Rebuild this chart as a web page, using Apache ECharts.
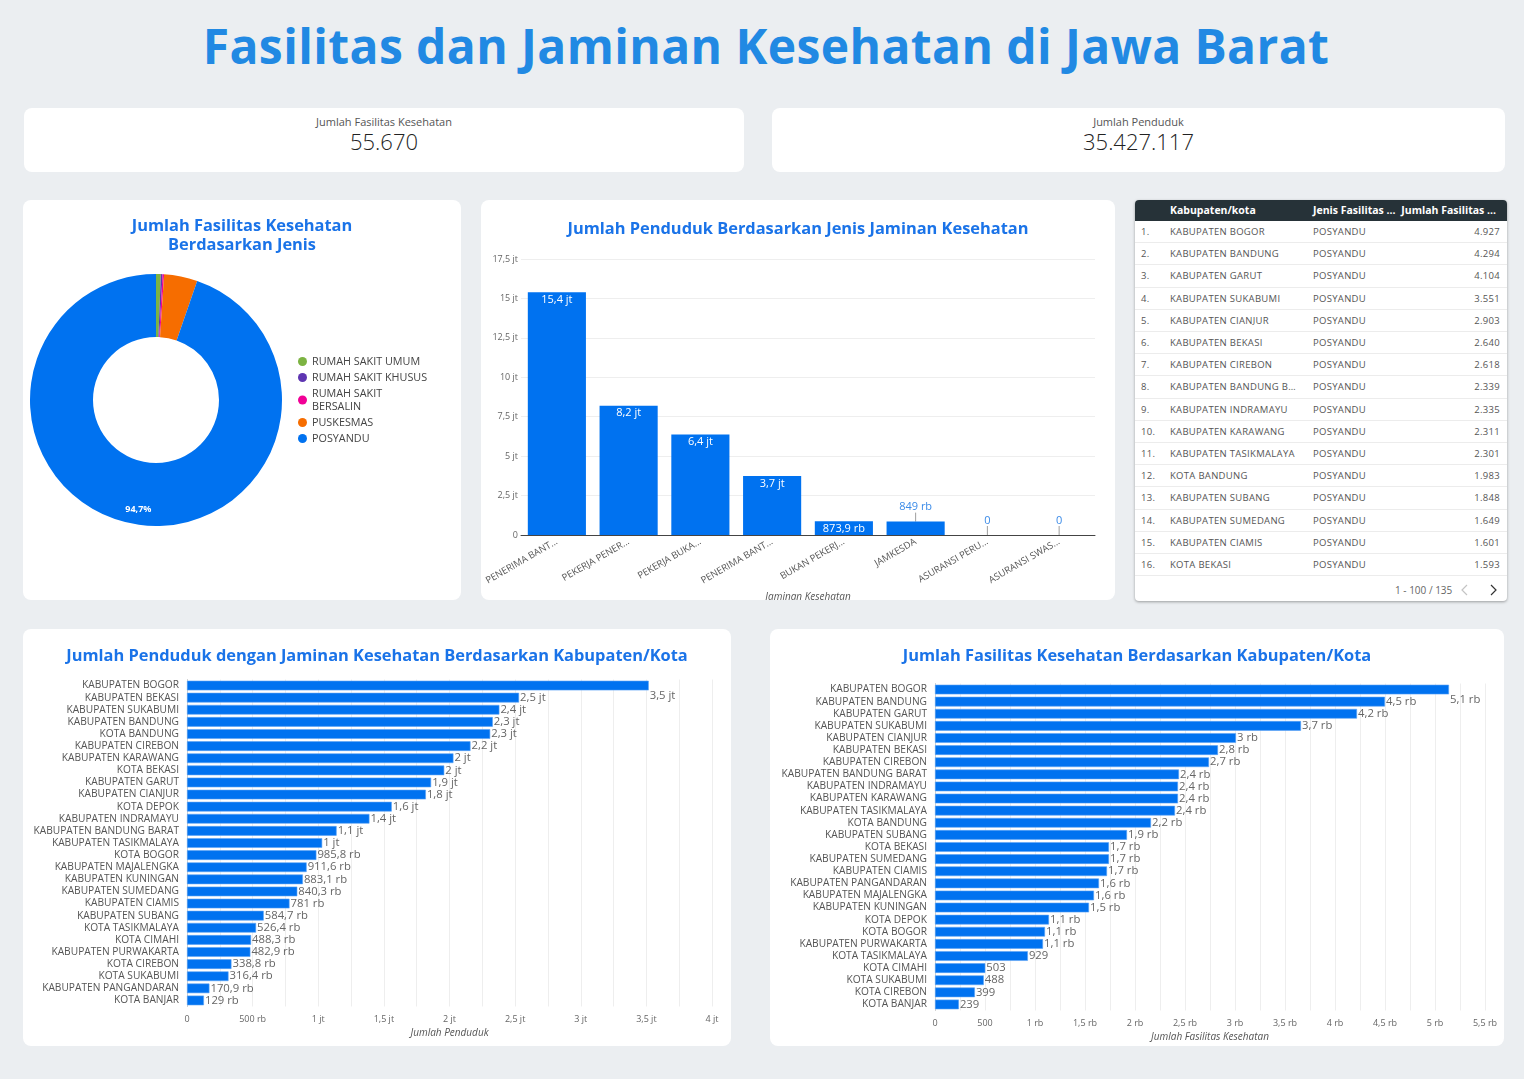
<!DOCTYPE html>
<html><head><meta charset="utf-8">
<script src="https://cdn.jsdelivr.net/npm/echarts@6/dist/echarts.min.js"></script>
<style>
html,body{margin:0;padding:0}
body{background:#ebeef1;width:1524px;height:1079px;overflow:hidden;font-family:'Open Sans',sans-serif;position:relative}
.card{position:absolute;background:#fff;border-radius:8px;overflow:hidden}
#title{position:absolute;left:0;width:1532px;top:16px;text-align:center;font-size:48px;font-weight:700;color:#2189e3;line-height:60px;letter-spacing:0.4px}
.kpi-label{position:absolute;left:0;right:0;top:6px;text-align:center;font-size:11px;color:#555}
.kpi-value{position:absolute;left:0;right:0;top:18px;text-align:center;font-size:22px;font-weight:300;color:#222}
#tbl{border-radius:4px;box-shadow:0 1px 3px rgba(0,0,0,0.35)}
#tbl .hdr{position:absolute;left:0;top:0;width:100%;height:21px;background:#263238;color:#fff;font-size:10.5px;font-weight:700}
#tbl .hdr span,#tbl .row span{position:absolute;top:0;white-space:nowrap}
#tbl .row{position:absolute;left:0;width:100%;height:22.2px;border-bottom:1px solid #ececec;font-size:9.5px;color:#555;letter-spacing:0.3px;box-sizing:border-box}
#tbl .row span{color:#555}
.ell{overflow:hidden;text-overflow:ellipsis;width:128px}
#foot{position:absolute;top:383px;left:0;width:100%;font-size:10px;color:#666}
.chart{position:absolute;left:0;top:0;width:100%;height:100%}
</style></head>
<body>
<div id="title">Fasilitas dan Jaminan Kesehatan di Jawa Barat</div>
<div class="card" style="left:24px;top:108px;width:720px;height:64px">
  <div class="kpi-label" id="kpi1l"></div><div class="kpi-value" id="kpi1v"></div>
</div>
<div class="card" style="left:772px;top:108px;width:733px;height:64px">
  <div class="kpi-label" id="kpi2l"></div><div class="kpi-value" id="kpi2v"></div>
</div>
<div class="card" style="left:23px;top:200px;width:438px;height:400px"><div class="chart" id="donut"></div></div>
<div class="card" style="left:481px;top:200px;width:634px;height:400px"><div class="chart" id="jaminan"></div></div>
<div class="card" id="tbl" style="left:1135px;top:200px;width:372px;height:401px"></div>
<div class="card" style="left:23px;top:629px;width:708px;height:417px"><div class="chart" id="pop"></div></div>
<div class="card" style="left:770px;top:629px;width:734px;height:417px"><div class="chart" id="fac"></div></div>
<script>
// ---------- DATA ----------
const kpiLabels = ['Jumlah Fasilitas Kesehatan', 'Jumlah Penduduk'];
const kpiValues = [55670, 35427117];

const donutNames = ['RUMAH SAKIT UMUM', 'RUMAH SAKIT KHUSUS', 'RUMAH SAKIT BERSALIN', 'PUSKESMAS', 'POSYANDU'];
const donutValues = [340, 120, 110, 2380, 52720];

const jaminanLabels = ['PENERIMA BANT...', 'PEKERJA PENER...', 'PEKERJA BUKA...', 'PENERIMA BANT...', 'BUKAN PEKERJ...', 'JAMKESDA', 'ASURANSI PERU...', 'ASURANSI SWAS...'];
const jaminanValues = [15390000, 8190000, 6380000, 3740000, 873900, 849000, 0, 0];

const tableNames = ['KABUPATEN BOGOR', 'KABUPATEN BANDUNG', 'KABUPATEN GARUT', 'KABUPATEN SUKABUMI', 'KABUPATEN CIANJUR', 'KABUPATEN BEKASI', 'KABUPATEN CIREBON', 'KABUPATEN BANDUNG BARAT', 'KABUPATEN INDRAMAYU', 'KABUPATEN KARAWANG', 'KABUPATEN TASIKMALAYA', 'KOTA BANDUNG', 'KABUPATEN SUBANG', 'KABUPATEN SUMEDANG', 'KABUPATEN CIAMIS', 'KOTA BEKASI'];
const tableJenis = ['POSYANDU', 'POSYANDU', 'POSYANDU', 'POSYANDU', 'POSYANDU', 'POSYANDU', 'POSYANDU', 'POSYANDU', 'POSYANDU', 'POSYANDU', 'POSYANDU', 'POSYANDU', 'POSYANDU', 'POSYANDU', 'POSYANDU', 'POSYANDU'];
const tableValues = [4927, 4294, 4104, 3551, 2903, 2640, 2618, 2339, 2335, 2311, 2301, 1983, 1848, 1649, 1601, 1593];

const popCats = ['KABUPATEN BOGOR', 'KABUPATEN BEKASI', 'KABUPATEN SUKABUMI', 'KABUPATEN BANDUNG', 'KOTA BANDUNG', 'KABUPATEN CIREBON', 'KABUPATEN KARAWANG', 'KOTA BEKASI', 'KABUPATEN GARUT', 'KABUPATEN CIANJUR', 'KOTA DEPOK', 'KABUPATEN INDRAMAYU', 'KABUPATEN BANDUNG BARAT', 'KABUPATEN TASIKMALAYA', 'KOTA BOGOR', 'KABUPATEN MAJALENGKA', 'KABUPATEN KUNINGAN', 'KABUPATEN SUMEDANG', 'KABUPATEN CIAMIS', 'KABUPATEN SUBANG', 'KOTA TASIKMALAYA', 'KOTA CIMAHI', 'KABUPATEN PURWAKARTA', 'KOTA CIREBON', 'KOTA SUKABUMI', 'KABUPATEN PANGANDARAN', 'KOTA BANJAR'];
const popValues = [3518000, 2530000, 2380000, 2330000, 2310000, 2160000, 2030000, 1960000, 1860000, 1820000, 1560000, 1390000, 1140000, 1030000, 985800, 911600, 883100, 840300, 781000, 584700, 526400, 488300, 482900, 338800, 316400, 170900, 129000];

const facCats = ['KABUPATEN BOGOR', 'KABUPATEN BANDUNG', 'KABUPATEN GARUT', 'KABUPATEN SUKABUMI', 'KABUPATEN CIANJUR', 'KABUPATEN BEKASI', 'KABUPATEN CIREBON', 'KABUPATEN BANDUNG BARAT', 'KABUPATEN INDRAMAYU', 'KABUPATEN KARAWANG', 'KABUPATEN TASIKMALAYA', 'KOTA BANDUNG', 'KABUPATEN SUBANG', 'KOTA BEKASI', 'KABUPATEN SUMEDANG', 'KABUPATEN CIAMIS', 'KABUPATEN PANGANDARAN', 'KABUPATEN MAJALENGKA', 'KABUPATEN KUNINGAN', 'KOTA DEPOK', 'KOTA BOGOR', 'KABUPATEN PURWAKARTA', 'KOTA TASIKMALAYA', 'KOTA CIMAHI', 'KOTA SUKABUMI', 'KOTA CIREBON', 'KOTA BANJAR'];
const facValues = [5140, 4500, 4220, 3660, 3010, 2830, 2740, 2440, 2430, 2430, 2400, 2160, 1920, 1740, 1740, 1720, 1640, 1590, 1540, 1140, 1100, 1080, 929, 503, 488, 399, 239];

// ---------- STYLE ----------
const FONT = "'Open Sans', sans-serif";
const BLUE = '#0072f0';
const TITLE_BLUE = '#1a73e8';
const donutColors = ['#7cb342', '#5e35b1', '#f10096', '#f66d00', '#0072f0'];

function thousands(v) { return String(Math.round(v)).replace(/\B(?=(\d{3})+(?!\d))/g, '.'); }
function compact(v) {
  const t = s => s.replace(/\.0$/, '').replace('.', ',');
  if (v === 0) return '0';
  if (Math.abs(v) >= 1e6) return t((v / 1e6).toFixed(1)) + ' jt';
  if (Math.abs(v) >= 1e3) return t((v / 1e3).toFixed(1)) + ' rb';
  return String(Math.round(v));
}

// KPI
document.getElementById('kpi1l').textContent = kpiLabels[0];
document.getElementById('kpi1v').textContent = thousands(kpiValues[0]);
document.getElementById('kpi2l').textContent = kpiLabels[1];
document.getElementById('kpi2v').textContent = thousands(kpiValues[1]);

// Table
(function () {
  const tbl = document.getElementById('tbl');
  let h = '<div class="hdr"><span style="left:35px;line-height:21px">Kabupaten/kota</span>' +
    '<span style="left:178px;line-height:21px">Jenis Fasilitas ...</span>' +
    '<span style="right:11px;line-height:21px">Jumlah Fasilitas ...</span></div>';
  for (let i = 0; i < tableNames.length; i++) {
    const top = 21 + i * 22.2;
    h += '<div class="row" style="top:' + top + 'px;line-height:22px">' +
      '<span style="left:6px">' + (i + 1) + '.</span>' +
      '<span class="ell" style="left:35px">' + tableNames[i] + '</span>' +
      '<span style="left:178px">' + tableJenis[i] + '</span>' +
      '<span style="right:7px">' + thousands(tableValues[i]) + '</span></div>';
  }
  h += '<div id="foot"><span style="position:absolute;left:260px">1 - 100 / 135</span>' +
    '<svg style="position:absolute;left:326px;top:1px" width="8" height="12"><polyline points="6,1 1,6 6,11" fill="none" stroke="#c4c4c4" stroke-width="1.2"/></svg>' +
    '<svg style="position:absolute;left:355px;top:1px" width="8" height="12"><polyline points="1,1 6,6 1,11" fill="none" stroke="#333" stroke-width="1.2"/></svg></div>';
  tbl.innerHTML = h;
})();

const titleStyle = { color: TITLE_BLUE, fontSize: 16.4, fontWeight: 700, fontFamily: FONT };

// Donut
(function () {
  const c = echarts.init(document.getElementById('donut'));
  c.setOption({
    textStyle: { fontFamily: FONT },
    title: { text: 'Jumlah Fasilitas Kesehatan\nBerdasarkan Jenis', left: 'center', top: 12, textStyle: Object.assign({}, titleStyle, { lineHeight: 19 }) },
    legend: {
      orient: 'vertical', left: 270, top: 150, icon: 'circle', itemWidth: 9, itemHeight: 9, itemGap: 3,
      textStyle: { fontSize: 10.8, color: '#444', lineHeight: 13 },
      formatter: n => n === 'RUMAH SAKIT BERSALIN' ? 'RUMAH SAKIT\nBERSALIN' : n,
      data: donutNames
    },
    series: [{
      type: 'pie', center: [133, 200], radius: [63, 126], startAngle: 90, clockwise: true,
      avoidLabelOverlap: false, silent: true,
      data: donutNames.map((n, i) => ({
        name: n, value: donutValues[i], itemStyle: { color: donutColors[i] },
        label: { show: n === 'POSYANDU' }
      })),
      label: { position: 'inside', color: '#fff', fontSize: 9, fontWeight: 700,
        formatter: p => p.percent.toFixed(1).replace('.', ',') + '%' },
      labelLayout: p => ({ dx: -1.5, dy: 13 }),
      labelLine: { show: false }
    }]
  });
})();

// Jaminan bar
(function () {
  const c = echarts.init(document.getElementById('jaminan'));
  c.setOption({
    textStyle: { fontFamily: FONT },
    title: { text: 'Jumlah Penduduk Berdasarkan Jenis Jaminan Kesehatan', left: 'center', top: 16, textStyle: titleStyle },
    grid: { left: 40, right: 20, top: 59, bottom: 65, containLabel: false, outerBoundsMode: 'none' },
    xAxis: {
      type: 'category', data: jaminanLabels,
      name: 'Jaminan Kesehatan', nameLocation: 'middle', nameGap: 53,
      nameTextStyle: { fontStyle: 'italic', fontSize: 10, color: '#555' },
      axisLine: { lineStyle: { color: '#444' } }, axisTick: { show: false },
      axisLabel: { rotate: 30, fontSize: 9.5, color: '#555', interval: 0, margin: 6 }
    },
    yAxis: {
      type: 'value', min: 0, max: 17500000, interval: 2500000,
      name: 'Jumlah Penduduk', nameLocation: 'middle', nameGap: 33,
      nameTextStyle: { fontStyle: 'italic', fontSize: 10, color: '#555' },
      axisLabel: { fontSize: 9, color: '#666', margin: 3, formatter: compact },
      splitLine: { lineStyle: { color: '#eeeeee' } }
    },
    series: [{
      type: 'bar', barCategoryGap: '19%', silent: true,
      data: jaminanValues.map((v, i) => i < 5
        ? { value: v, label: { show: true, position: 'insideTop', distance: 2, color: '#fff', fontSize: 11 } }
        : { value: v, label: { show: true, position: 'top', distance: 2, color: '#3b8be8', fontSize: 11 }, labelLine: { show: true, lineStyle: { color: '#9e9e9e', width: 1 } } }),
      itemStyle: { color: BLUE },
      label: { formatter: p => compact(p.value) },
      labelLayout: p => p.dataIndex >= 5 ? { dy: -7 } : {}
    }]
  });
})();

function hbar(id, title, cats, vals, max, unit, axisName, grid, nameGap) {
  const c = echarts.init(document.getElementById(id));
  c.setOption({
    textStyle: { fontFamily: FONT },
    title: { text: title, left: 'center', top: 14, textStyle: titleStyle },
    grid: Object.assign({ containLabel: false, outerBoundsMode: 'none' }, grid),
    yAxis: {
      type: 'category', data: cats, inverse: true,
      axisLine: { show: true, lineStyle: { color: '#cfcfcf' } }, axisTick: { show: false },
      axisLabel: { fontSize: 10.2, color: '#555', interval: 0, margin: 8 }
    },
    xAxis: {
      type: 'value', min: 0, max: max, interval: unit / 2,
      name: axisName, nameLocation: 'middle', nameGap: nameGap,
      nameTextStyle: { fontStyle: 'italic', fontSize: 10, color: '#555' },
      axisLine: { show: false }, axisTick: { show: false },
      axisLabel: { fontSize: 9, color: '#666', margin: 8, formatter: v => (Math.round(v) % unit === 0) ? compact(v) : '' },
      splitLine: { lineStyle: { color: '#eeeeee' } }
    },
    series: [{
      type: 'bar', barCategoryGap: '20%', silent: true,
      itemStyle: { color: BLUE, borderColor: '#5aa2f5', borderWidth: 0.6 },
      data: vals.map((v, i) => i === 0 ? { value: v, label: { offset: [0, 10] } } : v),
      label: { show: true, position: 'right', distance: 1, color: '#666', fontSize: 11.3, formatter: p => compact(p.value) }
    }]
  });
}
hbar('pop', 'Jumlah Penduduk dengan Jaminan Kesehatan Berdasarkan Kabupaten/Kota', popCats, popValues, 4000000, 500000, 'Jumlah Penduduk',
  { left: 164, right: 19, top: 50.5, bottom: 39.5 }, 20);
hbar('fac', 'Jumlah Fasilitas Kesehatan Berdasarkan Kabupaten/Kota', facCats, facValues, 5500, 500, 'Jumlah Fasilitas Kesehatan',
  { left: 165, right: 19, top: 54.5, bottom: 35.5 }, 16);
</script>
</body></html>
